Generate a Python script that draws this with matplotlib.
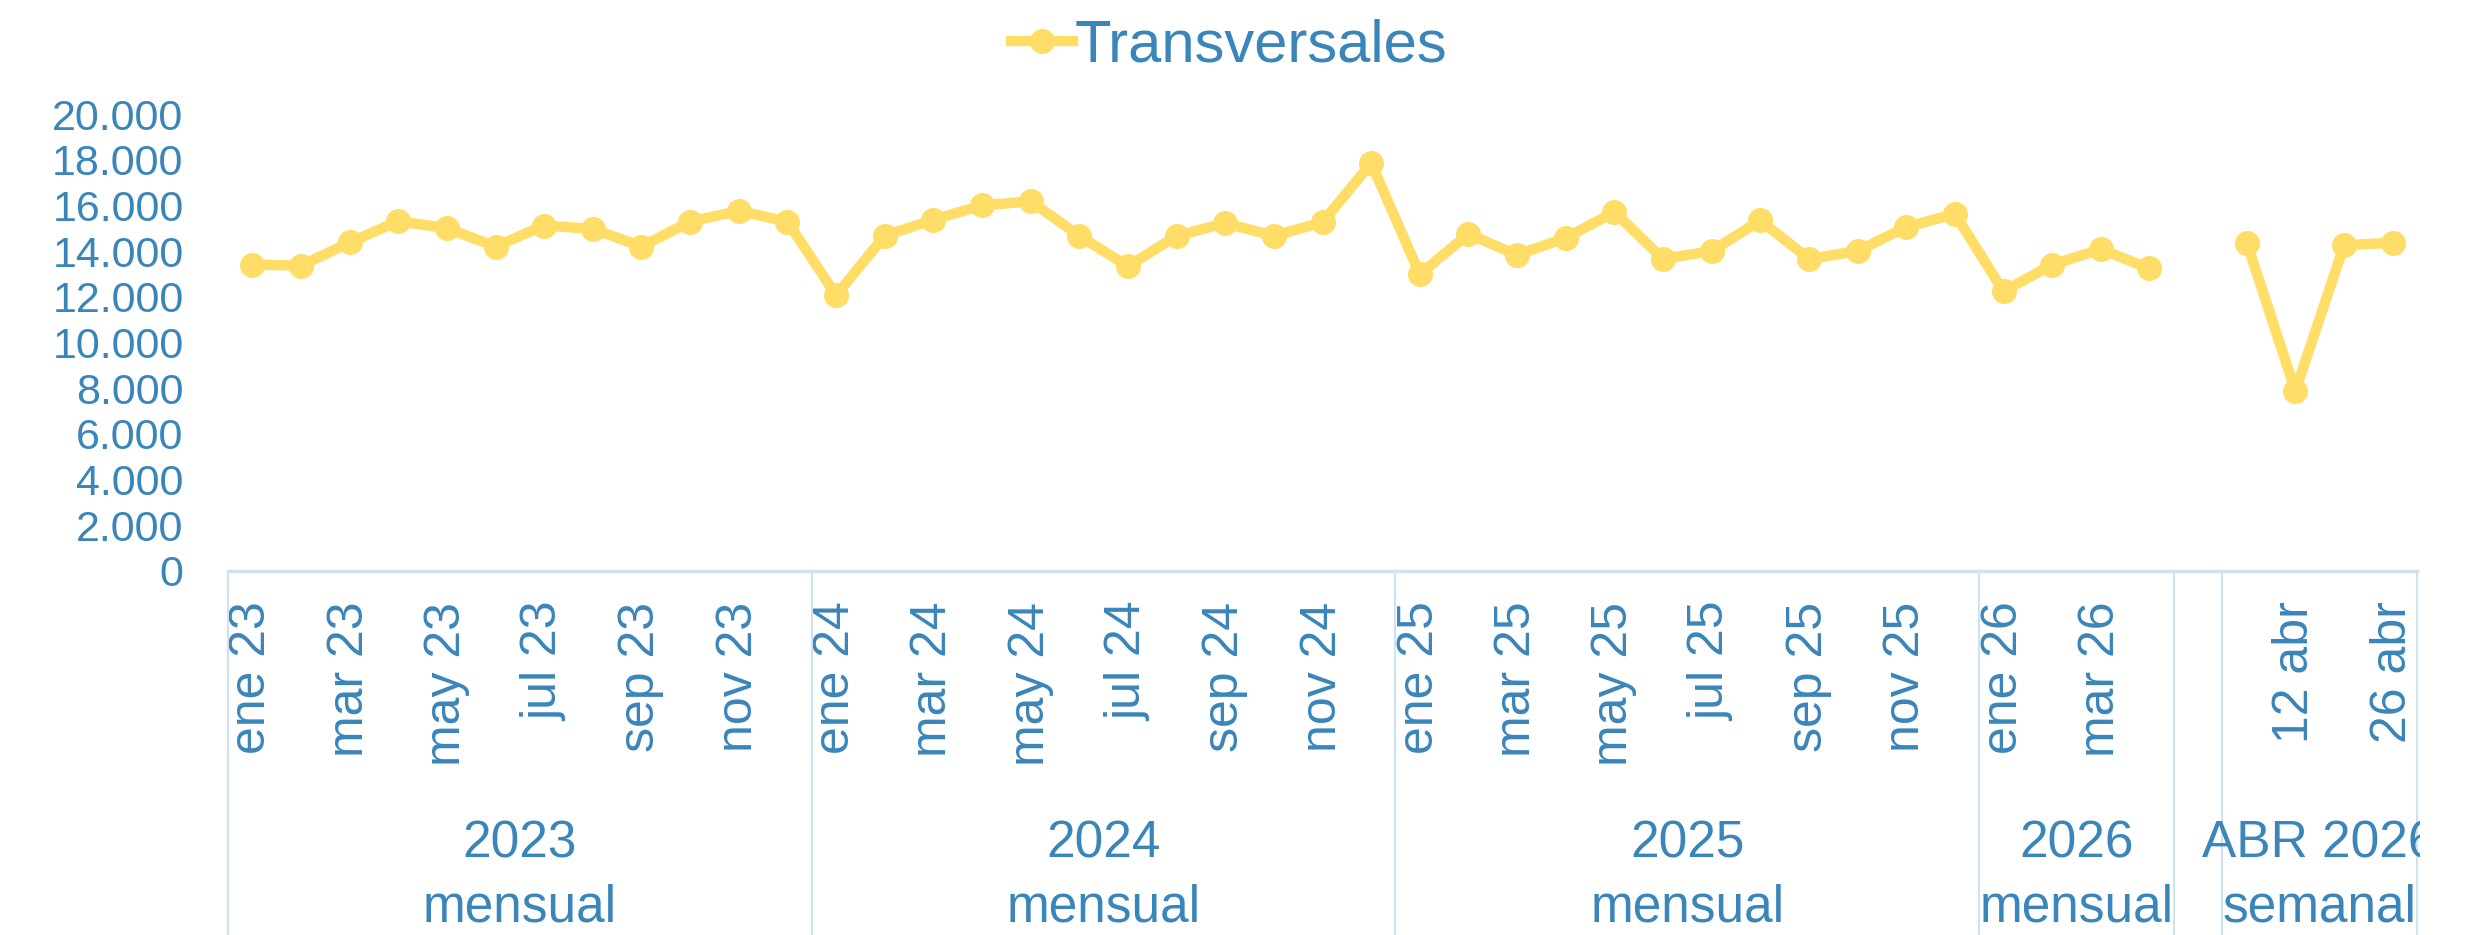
import numpy as np
import matplotlib
matplotlib.use("Agg")
import matplotlib.pyplot as plt
from matplotlib.transforms import blended_transform_factory, Bbox, TransformedBbox
from matplotlib.lines import Line2D

# ---- data ----
months = ["ene", "feb", "mar", "abr", "may", "jun", "jul", "ago", "sep", "oct", "nov", "dic"]
cat_labels = ([f"{m} 23" for m in months] + [f"{m} 24" for m in months] +
              [f"{m} 25" for m in months] + [f"{m} 26" for m in months[:4]] +
              [""] + ["5 abr", "12 abr", "19 abr", "26 abr"])
values = [13410, 13360, 14380, 15310, 15000, 14200, 15120, 14970, 14200, 15290, 15760, 15290,
          12070, 14670, 15370, 16000, 16180, 14670, 13330, 14670, 15220, 14670, 15260, 17850,
          12990, 14750, 13830, 14580, 15710, 13660, 14000, 15340, 13660, 14000, 15050, 15630,
          12240, 13410, 14080, 13240,
          np.nan,
          14370, 7880, 14250, 14370]
group_top = ["2023", "2024", "2025", "2026", "", "ABR 2026"]
group_bottom = ["mensual", "mensual", "mensual", "mensual", "", "semanal"]
group_sizes = [12, 12, 12, 4, 1, 4]
yticks = [0, 2000, 4000, 6000, 8000, 10000, 12000, 14000, 16000, 18000, 20000]
series_name = "Transversales"

# ---- style ----
W, H = 2468, 935
BLUE = "#3A85BA"
YELLOW = "#FFDD66"
GRID = "#D0E1F0"
plt.rcParams['font.family'] = ['Liberation Sans', 'DejaVu Sans']

fig = plt.figure(figsize=(W / 100, H / 100), dpi=100)
ax_left, ax_right = 228 / W, 2417 / W
ax_bottom, ax_top = (H - 571) / H, (H - 114) / H
ax = fig.add_axes([ax_left, ax_bottom, ax_right - ax_left, ax_top - ax_bottom])

x = np.arange(len(values))
ax.plot(x, values, color=YELLOW, lw=7.5, marker="o", ms=17, mfc=YELLOW, mec=YELLOW,
        solid_joinstyle="round", label=series_name)

n = len(values)
ax.set_xlim(-0.5, n - 0.5)
ax.set_ylim(0, 20000)
ax.set_yticks(yticks)
ax.set_yticklabels([f"{v:,}".replace(",", ".") for v in yticks])
ax.tick_params(axis="y", length=0, labelsize=31, labelcolor=BLUE, pad=32)

shown = list(range(0, n, 2))
ax.set_xticks(shown)
ax.set_xticklabels([cat_labels[i] for i in shown], rotation=90, va="top", ha="center")
ax.tick_params(axis="x", length=0, labelsize=36, labelcolor=BLUE, pad=22)

for s in ["top", "right", "left"]:
    ax.spines[s].set_visible(False)
ax.spines["bottom"].set_color(GRID)
ax.spines["bottom"].set_linewidth(2.5)

# multi-level category separators and group labels
trans = blended_transform_factory(ax.transData, ax.transAxes)
axes_h_px = (ax_top - ax_bottom) * H
bottom_axes = -(ax_bottom * H) / axes_h_px
edges = np.concatenate([[0], np.cumsum(group_sizes)]) - 0.5
for e in edges:
    ax.add_line(Line2D([e, e], [0, bottom_axes], transform=trans, color=GRID, lw=1.5,
                       clip_on=False))

clip = TransformedBbox(Bbox([[0, 0], [2420 / W, 1]]), fig.transFigure)
y1 = -(857 - 571) / axes_h_px
y2 = -(922 - 571) / axes_h_px
for i, (top, bot) in enumerate(zip(group_top, group_bottom)):
    c = (edges[i] + edges[i + 1]) / 2
    for txt, yy in [(top, y1), (bot, y2)]:
        if not txt:
            continue
        t = ax.text(c, yy, txt, transform=trans, ha="center", va="baseline", fontsize=37,
                    color=BLUE, clip_on=True)
        t.set_clip_box(clip)

fig.legend(loc="center", bbox_to_anchor=(0.498, 1 - 46 / H), frameon=False, fontsize=43,
           labelcolor=BLUE, handlelength=1.05, handletextpad=0.03, markerscale=1.0,
           borderpad=0, borderaxespad=0)

fig.savefig("out.png", dpi=100, facecolor="white")
